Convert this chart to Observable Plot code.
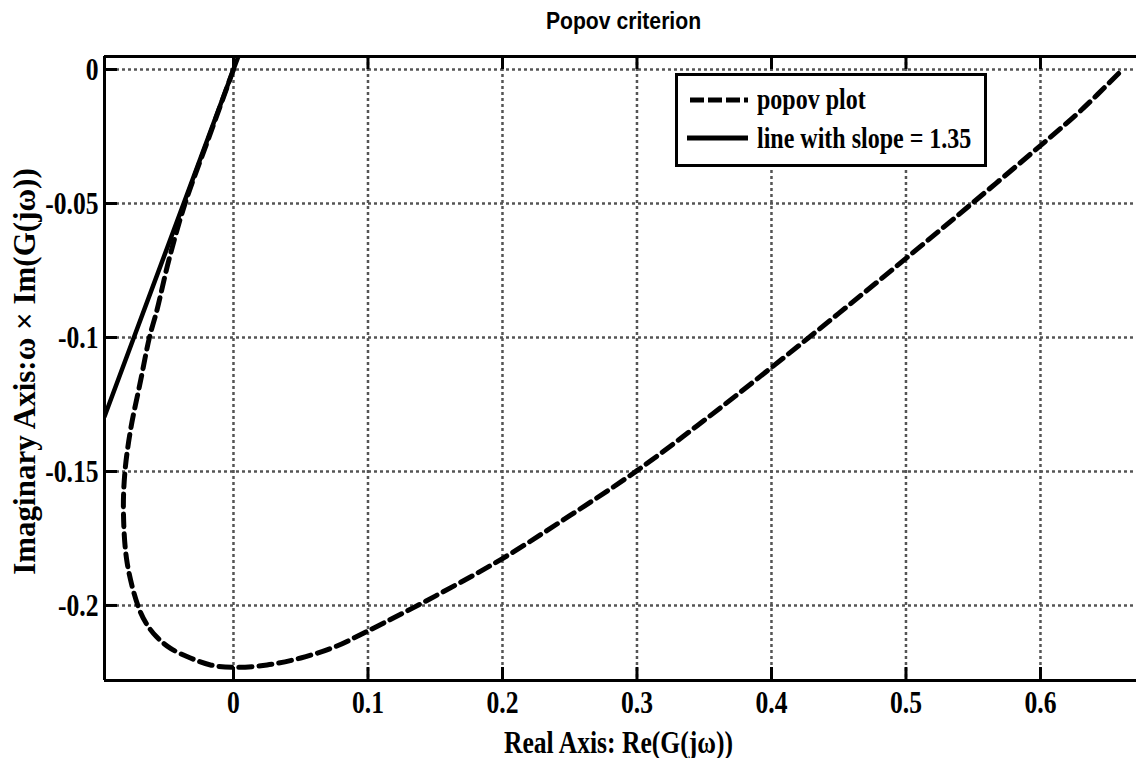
<!DOCTYPE html>
<html>
<head>
<meta charset="utf-8">
<script src="https://cdn.jsdelivr.net/npm/d3@7"></script>
<script src="https://cdn.jsdelivr.net/npm/@observablehq/plot@0.6"></script>
<style>
  html, body { margin: 0; padding: 0; background: #fff; }
  #wrap { position: relative; width: 1136px; height: 758px; overflow: hidden; }
  #legend { position: absolute; left: 675px; top: 73px; width: 306px; height: 88px; border: 3px solid #000; background: #fff; }
  #legend svg { position: absolute; left: 0; top: 0; }
  #legend .lab { position: absolute; left: 79px; font-family: 'Liberation Serif', 'Times New Roman', serif; font-size: 30px; font-weight: bold; color: #000; line-height: 30px; white-space: nowrap; transform: scaleX(0.8); transform-origin: 0 50%; }
</style>
</head>
<body>
<div id="wrap"></div>
<script>
// ---- data ----
const titleText = "Popov criterion";
const xLabelText = "Real Axis: Re(G(jω))";
const yLabelText = "Imaginary Axis:ω × Im(G(jω))";

const xTicks = [0, 0.1, 0.2, 0.3, 0.4, 0.5, 0.6];
const xTickLabels = ["0", "0.1", "0.2", "0.3", "0.4", "0.5", "0.6"];
const yTicks = [0, -0.05, -0.1, -0.15, -0.2];
const yTickLabels = ["0", "-0.05", "-0.1", "-0.15", "-0.2"];
const xDomain = [-0.0959, 0.6714];
const yDomain = [-0.228, 0.00485];

// popov plot: Re(G(jw)) and w*Im(G(jw))
const popovRe = [0, -0.018, -0.036, -0.048, -0.057, -0.0625, -0.069, -0.0766, -0.0808, -0.0818, -0.0790, -0.0706, -0.0645, -0.0570, -0.0468, -0.032, -0.0171, 0, 0.025, 0.05, 0.075, 0.1, 0.15, 0.2, 0.25, 0.3, 0.35, 0.4, 0.45, 0.5, 0.55, 0.6, 0.63, 0.66];
const popovIm = [0, -0.025, -0.05, -0.071, -0.09, -0.1, -0.116, -0.1347, -0.1507, -0.1657, -0.1843, -0.2007, -0.2070, -0.2118, -0.2160, -0.2196, -0.2222, -0.2231, -0.2222, -0.2196, -0.2155, -0.2095, -0.1965, -0.1825, -0.1665, -0.1497, -0.1309, -0.1112, -0.0910, -0.0705, -0.0496, -0.0284, -0.0153, -0.0005];

// line with slope = 1.35 (end points)
const slopeRe = [-0.0959, 0.0036];
const slopeIm = [-0.1295, 0.00485];

const legendLabels = ["popov plot", "line with slope = 1.35"];

// ---- build ----
const popov = popovRe.map((x, i) => ({x, y: popovIm[i]}));
const slopeLine = slopeRe.map((x, i) => ({x, y: slopeIm[i]}));

const W = 1136, H = 758, mt = 56, mb = 78, ml = 104, mr = 0;
const innerW = W - ml - mr, innerH = H - mt - mb;
const serif = "'Liberation Serif', 'Times New Roman', serif";
const sans = "'Liberation Sans', Arial, sans-serif";
const gridStyle = {stroke: "#555", strokeOpacity: 1, strokeWidth: 2.5, strokeDasharray: "3,3"};

const chart = Plot.plot({
  width: W, height: H,
  marginTop: mt, marginBottom: mb, marginLeft: ml, marginRight: mr,
  x: {domain: xDomain},
  y: {domain: yDomain},
  style: {background: "#fff", fontFamily: serif, color: "#000"},
  marks: [
    Plot.gridX(xTicks, gridStyle),
    Plot.gridY(yTicks, gridStyle),
    Plot.line(popov, {x: "x", y: "y", stroke: "#000", strokeWidth: 5, strokeDasharray: "13,7", curve: "catmull-rom", clip: true}),
    Plot.line(slopeLine, {x: "x", y: "y", stroke: "#000", strokeWidth: 4.5, clip: true}),
    Plot.ruleY([yDomain[0]], {stroke: "#000", strokeWidth: 3}),
    Plot.ruleY([yDomain[1]], {stroke: "#000", strokeWidth: 3}),
    Plot.ruleX([xDomain[0]], {stroke: "#000", strokeWidth: 3}),
    Plot.tickX(xTicks, {x: d => d, insetTop: innerH - 13, stroke: "#000", strokeWidth: 3}),
    Plot.tickX(xTicks, {x: d => d, insetBottom: innerH - 13, stroke: "#000", strokeWidth: 3}),
    Plot.tickY(yTicks, {y: d => d, insetRight: innerW - 13, stroke: "#000", strokeWidth: 3}),
    Plot.axisX(xTicks, {anchor: "bottom", tickSize: 0, tickPadding: 10, label: null,
      tickFormat: d => xTickLabels[xTicks.indexOf(d)],
      fontFamily: serif, fontSize: 32, fontWeight: "bold", fill: "#000"}),
    Plot.axisY(yTicks, {anchor: "left", tickSize: 0, tickPadding: 6, label: null,
      tickFormat: d => yTickLabels[yTicks.indexOf(d)],
      fontFamily: serif, fontSize: 32, fontWeight: "bold", fill: "#000"}),
    Plot.text([titleText], {text: d => d, frameAnchor: "top", textAnchor: "middle", lineAnchor: "bottom", dx: 3, dy: -28,
      fontFamily: sans, fontSize: 23, fontWeight: "bold", fill: "#000"}),
    Plot.text([xLabelText], {text: d => d, frameAnchor: "bottom", textAnchor: "middle", lineAnchor: "bottom", dx: -2, dy: 72,
      fontFamily: serif, fontSize: 32, fontWeight: "bold", fill: "#000"}),
    Plot.text([yLabelText], {text: d => d, frameAnchor: "left", textAnchor: "middle", lineAnchor: "middle", rotate: -90, dx: -79, dy: 3,
      fontFamily: serif, fontSize: 31, fontWeight: "bold", fill: "#000"})
  ]
});

const wrap = document.getElementById("wrap");
wrap.appendChild(chart);

// horizontally condense texts (the reference figure is squeezed horizontally)
function condense(t, k) {
  const w = t.getComputedTextLength();
  if (w > 0) {
    t.setAttribute("textLength", (w * k).toFixed(1));
    t.setAttribute("lengthAdjust", "spacingAndGlyphs");
  }
}
chart.querySelectorAll("text").forEach(t => {
  const s = t.textContent;
  if (s === yLabelText) return;
  condense(t, s === titleText ? 0.92 : 0.8);
});

// legend
const legend = document.createElement("div");
legend.id = "legend";
legend.innerHTML = `
<svg width="306" height="88" style="display:block">
  <line x1="12" x2="70" y1="24" y2="24" stroke="#000" stroke-width="5" stroke-dasharray="14,4"/>
  <line x1="9" x2="70" y1="62" y2="62" stroke="#000" stroke-width="5"/>
</svg>
<div class="lab" style="top:8px">${legendLabels[0]}</div>
<div class="lab" style="top:47px">${legendLabels[1]}</div>`;
wrap.appendChild(legend);
</script>
</body>
</html>
